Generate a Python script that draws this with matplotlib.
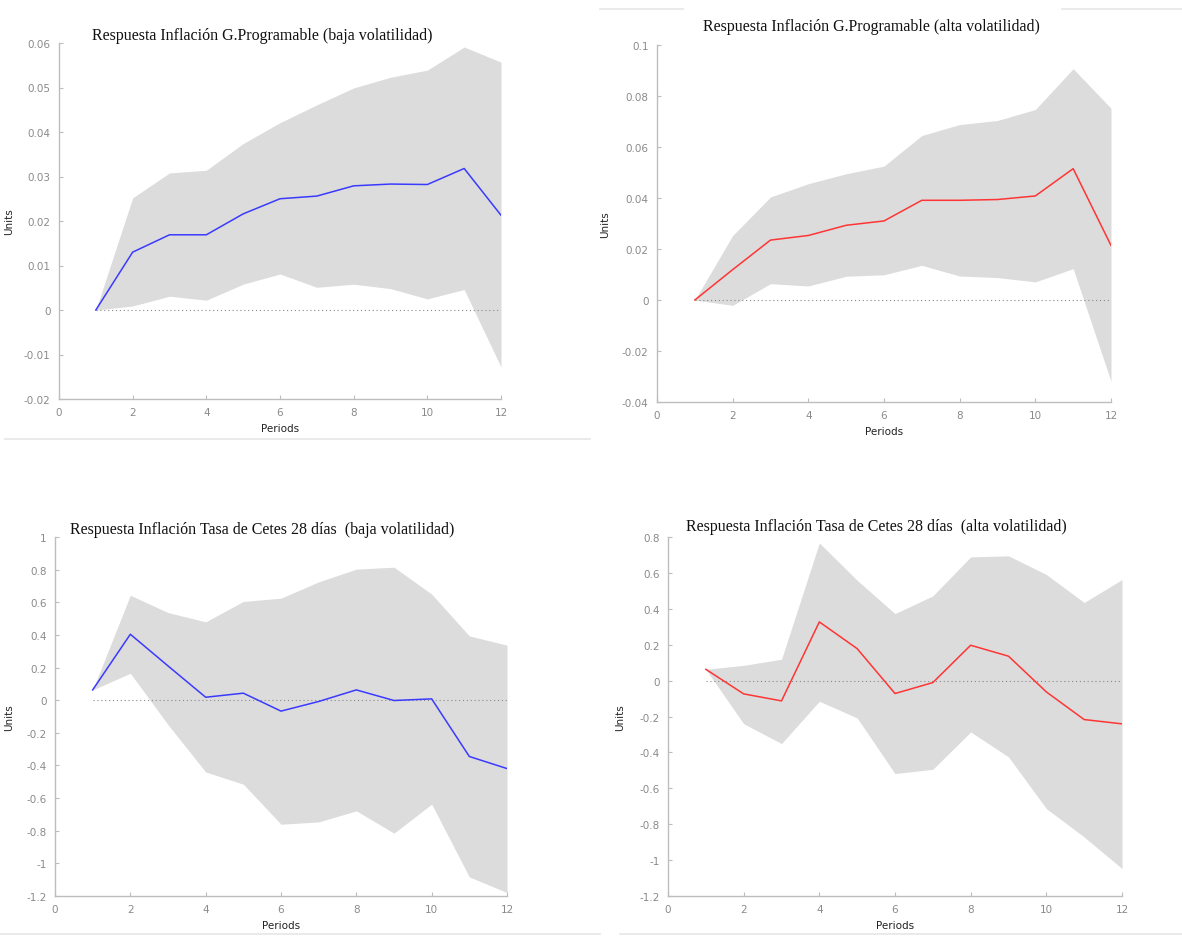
import matplotlib
matplotlib.use("Agg")
import matplotlib.pyplot as plt
from matplotlib.lines import Line2D

periods = list(range(1, 13))

# Panel 1: G.Programable, baja volatilidad
gp_baja_mean = [0.0, 0.0130, 0.0169, 0.0169, 0.0216, 0.0250, 0.0256, 0.0279, 0.0283, 0.0282, 0.0318, 0.0213]
gp_baja_upper = [0.0, 0.0252, 0.0308, 0.0314, 0.0374, 0.0421, 0.0461, 0.0499, 0.0523, 0.0539, 0.0591, 0.0557]
gp_baja_lower = [0.0, 0.0009, 0.0031, 0.0022, 0.0058, 0.0081, 0.0051, 0.0058, 0.0048, 0.0025, 0.0046, -0.0128]

# Panel 2: G.Programable, alta volatilidad
gp_alta_mean = [0.0, 0.0119, 0.0235, 0.0253, 0.0293, 0.0310, 0.0391, 0.0391, 0.0394, 0.0408, 0.0515, 0.0214]
gp_alta_upper = [0.0, 0.0253, 0.0404, 0.0456, 0.0495, 0.0525, 0.0645, 0.0688, 0.0704, 0.0747, 0.0907, 0.0752]
gp_alta_lower = [0.0, -0.0021, 0.0064, 0.0055, 0.0093, 0.0099, 0.0136, 0.0094, 0.0088, 0.0071, 0.0123, -0.0319]

# Panel 3: Cetes 28 dias, baja volatilidad
ct_baja_mean = [0.063, 0.404, 0.21, 0.018, 0.043, -0.067, -0.008, 0.063, -0.002, 0.008, -0.345, -0.419]
ct_baja_upper = [0.063, 0.643, 0.537, 0.48, 0.605, 0.625, 0.725, 0.803, 0.815, 0.65, 0.394, 0.337]
ct_baja_lower = [0.063, 0.165, -0.15, -0.44, -0.515, -0.76, -0.746, -0.678, -0.815, -0.637, -1.083, -1.179]

# Panel 4: Cetes 28 dias, alta volatilidad
ct_alta_mean = [0.063, -0.074, -0.113, 0.327, 0.178, -0.072, -0.011, 0.197, 0.136, -0.063, -0.217, -0.241]
ct_alta_upper = [0.063, 0.085, 0.119, 0.767, 0.559, 0.373, 0.472, 0.689, 0.695, 0.591, 0.435, 0.563]
ct_alta_lower = [0.063, -0.24, -0.351, -0.115, -0.208, -0.518, -0.494, -0.286, -0.425, -0.713, -0.871, -1.047]

titles = [
    "Respuesta Inflación G.Programable (baja volatilidad)",
    "Respuesta Inflación G.Programable (alta volatilidad)",
    "Respuesta Inflación Tasa de Cetes 28 días  (baja volatilidad)",
    "Respuesta Inflación Tasa de Cetes 28 días  (alta volatilidad)",
]
yticks_list = [
    [-0.02, -0.01, 0, 0.01, 0.02, 0.03, 0.04, 0.05, 0.06],
    [-0.04, -0.02, 0, 0.02, 0.04, 0.06, 0.08, 0.1],
    [-1.2, -1, -0.8, -0.6, -0.4, -0.2, 0, 0.2, 0.4, 0.6, 0.8, 1],
    [-1.2, -1, -0.8, -0.6, -0.4, -0.2, 0, 0.2, 0.4, 0.6, 0.8],
]
xticks = [0, 2, 4, 6, 8, 10, 12]

W, H = 1182, 937
fig = plt.figure(figsize=(W / 100, H / 100), dpi=100)

boxes = [(59, 44, 501, 400), (657, 46, 1111, 403), (55, 538, 507, 897), (668, 538, 1122, 897)]
title_pos = [(262, 36), (871, 27), (262, 530), (876, 527)]
units_x = [14, 610, 14, 625]
series = [
    (gp_baja_mean, gp_baja_upper, gp_baja_lower, "#3a3aff"),
    (gp_alta_mean, gp_alta_upper, gp_alta_lower, "#ff3535"),
    (ct_baja_mean, ct_baja_upper, ct_baja_lower, "#3a3aff"),
    (ct_alta_mean, ct_alta_upper, ct_alta_lower, "#ff3535"),
]

def fmt(v):
    if v == 0:
        return "0"
    return "%g" % v

for i in range(4):
    l, t, r, b = boxes[i]
    ax = fig.add_axes([l / W, 1 - b / H, (r - l) / W, (b - t) / H])
    mean, up, lo, col = series[i]
    ax.fill_between(periods, lo, up, color="#dcdcdc", linewidth=0, zorder=1)
    ax.plot([1, 12], [0, 0], linestyle=(0, (1, 2.5)), color="#888888", linewidth=0.8, zorder=2)
    ax.plot(periods, mean, color=col, linewidth=1.1, zorder=3)
    yt = yticks_list[i]
    ax.set_xlim(0, 12)
    ax.set_ylim(yt[0], yt[-1])
    ax.set_xticks(xticks)
    ax.set_yticks(yt)
    ax.set_yticklabels([fmt(v) for v in yt])
    for s in ["top", "right"]:
        ax.spines[s].set_visible(False)
    for s in ["left", "bottom"]:
        ax.spines[s].set_color("#bdbdbd")
        ax.spines[s].set_linewidth(1.0)
    ax.tick_params(direction="in", length=3, width=0.8, color="#bdbdbd",
                   labelsize=7.5, labelcolor="#8a8a8a", pad=6)
    ax.set_xlabel("Periods", fontsize=7.5, color="#222222", labelpad=4)
    ax.set_ylabel("Units", fontsize=7.5, color="#222222")
    ax.yaxis.set_label_coords((units_x[i] - l) / (r - l), 0.5)
    tx, ty = title_pos[i]
    fig.text(tx / W, 1 - ty / H, titles[i], family="Liberation Serif", fontsize=11.5,
             color="#111111", ha="center", va="center")

# light separator lines from the source screenshot
seps = [((5, 590), 440), ((600, 683), 10), ((1062, 1182), 10), ((0, 600), 935), ((620, 1182), 935)]
for (x0, x1), y in seps:
    fig.add_artist(Line2D([x0 / W, x1 / W], [1 - y / H, 1 - y / H], color="#e6e6e6", linewidth=1.2))

fig.savefig("out.png", dpi=100)
